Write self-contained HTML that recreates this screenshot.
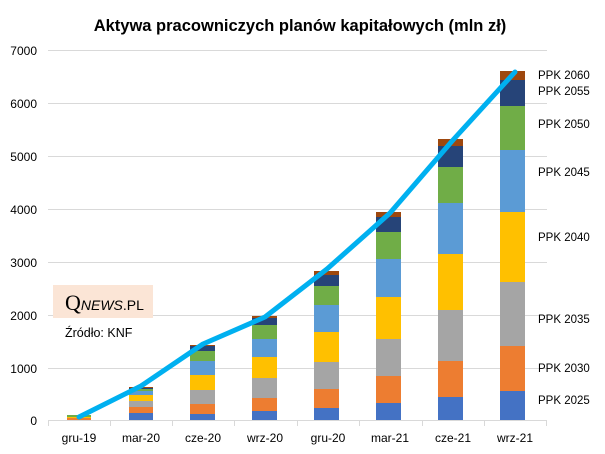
<!DOCTYPE html>
<html><head><meta charset="utf-8"><style>
body{margin:0;background:#fff;}
svg{display:block;font-family:"Liberation Sans","DejaVu Sans",sans-serif;}
</style></head><body>
<svg width="605" height="454" viewBox="0 0 605 454" xmlns="http://www.w3.org/2000/svg">
<rect width="605" height="454" fill="#fff"/>
<text x="300" y="31" text-anchor="middle" font-size="16.5" font-weight="bold" fill="#000">Aktywa pracowniczych planów kapitałowych (mln zł)</text>
<g stroke="#d9d9d9" stroke-width="1">
<line x1="48" x2="547" y1="50.5" y2="50.5"/>
<line x1="48" x2="547" y1="103.5" y2="103.5"/>
<line x1="48" x2="547" y1="156.5" y2="156.5"/>
<line x1="48" x2="547" y1="209.5" y2="209.5"/>
<line x1="48" x2="547" y1="262.5" y2="262.5"/>
<line x1="48" x2="547" y1="315.5" y2="315.5"/>
<line x1="48" x2="547" y1="368.5" y2="368.5"/>
<line x1="48" x2="547" y1="420.5" y2="420.5"/>
<line x1="48.5" x2="48.5" y1="420" y2="426"/>
<line x1="110.5" x2="110.5" y1="420" y2="426"/>
<line x1="172.5" x2="172.5" y1="420" y2="426"/>
<line x1="234.5" x2="234.5" y1="420" y2="426"/>
<line x1="297.5" x2="297.5" y1="420" y2="426"/>
<line x1="359.5" x2="359.5" y1="420" y2="426"/>
<line x1="422.5" x2="422.5" y1="420" y2="426"/>
<line x1="484.5" x2="484.5" y1="420" y2="426"/>
<line x1="546.5" x2="546.5" y1="420" y2="426"/>
</g>
<g font-size="12" fill="#000" text-anchor="end">
<text x="37" y="55">7000</text><text x="37" y="108">6000</text><text x="37" y="161">5000</text>
<text x="37" y="214">4000</text><text x="37" y="267">3000</text><text x="37" y="320">2000</text>
<text x="37" y="373">1000</text><text x="37" y="425">0</text>
</g>
<g font-size="12" fill="#000" text-anchor="middle">
<text x="79" y="442">gru-19</text><text x="141" y="442">mar-20</text><text x="203" y="442">cze-20</text>
<text x="265" y="442">wrz-20</text><text x="328" y="442">gru-20</text><text x="390" y="442">mar-21</text>
<text x="453" y="442">cze-21</text><text x="515" y="442">wrz-21</text>
</g>
<!-- bars: colors bottom->top -->
<g>
<!-- gru-19 -->
<rect x="67" y="418" width="24" height="2" fill="#ED7D31"/>
<rect x="67" y="417" width="24" height="1" fill="#FFC000"/>
<rect x="67" y="415" width="24" height="2" fill="#70AD47"/>
<!-- mar-20 -->
<rect x="129" y="413" width="24" height="7" fill="#4472C4"/>
<rect x="129" y="407" width="24" height="6" fill="#ED7D31"/>
<rect x="129" y="401" width="24" height="6" fill="#A5A5A5"/>
<rect x="129" y="395" width="24" height="6" fill="#FFC000"/>
<rect x="129" y="391" width="24" height="4" fill="#5B9BD5"/>
<rect x="129" y="389" width="24" height="2" fill="#70AD47"/>
<rect x="129" y="388" width="24" height="1" fill="#264478"/>
<rect x="129" y="387" width="24" height="1" fill="#9E480E"/>
<!-- cze-20 -->
<rect x="190" y="414" width="25" height="6" fill="#4472C4"/>
<rect x="190" y="404" width="25" height="10" fill="#ED7D31"/>
<rect x="190" y="390" width="25" height="14" fill="#A5A5A5"/>
<rect x="190" y="375" width="25" height="15" fill="#FFC000"/>
<rect x="190" y="361" width="25" height="14" fill="#5B9BD5"/>
<rect x="190" y="351" width="25" height="10" fill="#70AD47"/>
<rect x="190" y="346" width="25" height="5" fill="#264478"/>
<rect x="190" y="345" width="25" height="1" fill="#9E480E"/>
<!-- wrz-20 -->
<rect x="252" y="411" width="25" height="9" fill="#4472C4"/>
<rect x="252" y="398" width="25" height="13" fill="#ED7D31"/>
<rect x="252" y="378" width="25" height="20" fill="#A5A5A5"/>
<rect x="252" y="357" width="25" height="21" fill="#FFC000"/>
<rect x="252" y="339" width="25" height="18" fill="#5B9BD5"/>
<rect x="252" y="325" width="25" height="14" fill="#70AD47"/>
<rect x="252" y="318" width="25" height="7" fill="#264478"/>
<rect x="252" y="316" width="25" height="2" fill="#9E480E"/>
<!-- gru-20 -->
<rect x="314" y="408" width="25" height="12" fill="#4472C4"/>
<rect x="314" y="389" width="25" height="19" fill="#ED7D31"/>
<rect x="314" y="362" width="25" height="27" fill="#A5A5A5"/>
<rect x="314" y="332" width="25" height="30" fill="#FFC000"/>
<rect x="314" y="305" width="25" height="27" fill="#5B9BD5"/>
<rect x="314" y="286" width="25" height="19" fill="#70AD47"/>
<rect x="314" y="275" width="25" height="11" fill="#264478"/>
<rect x="314" y="271" width="25" height="4" fill="#9E480E"/>
<!-- mar-21 -->
<rect x="376" y="403" width="25" height="17" fill="#4472C4"/>
<rect x="376" y="376" width="25" height="27" fill="#ED7D31"/>
<rect x="376" y="339" width="25" height="37" fill="#A5A5A5"/>
<rect x="376" y="297" width="25" height="42" fill="#FFC000"/>
<rect x="376" y="259" width="25" height="38" fill="#5B9BD5"/>
<rect x="376" y="232" width="25" height="27" fill="#70AD47"/>
<rect x="376" y="217" width="25" height="15" fill="#264478"/>
<rect x="376" y="212" width="25" height="5" fill="#9E480E"/>
<!-- cze-21 -->
<rect x="438" y="397" width="25" height="23" fill="#4472C4"/>
<rect x="438" y="361" width="25" height="36" fill="#ED7D31"/>
<rect x="438" y="310" width="25" height="51" fill="#A5A5A5"/>
<rect x="438" y="254" width="25" height="56" fill="#FFC000"/>
<rect x="438" y="203" width="25" height="51" fill="#5B9BD5"/>
<rect x="438" y="167" width="25" height="36" fill="#70AD47"/>
<rect x="438" y="146" width="25" height="21" fill="#264478"/>
<rect x="438" y="139" width="25" height="7" fill="#9E480E"/>
<!-- wrz-21 -->
<rect x="500" y="391" width="25" height="29" fill="#4472C4"/>
<rect x="500" y="346" width="25" height="45" fill="#ED7D31"/>
<rect x="500" y="282" width="25" height="64" fill="#A5A5A5"/>
<rect x="500" y="212" width="25" height="70" fill="#FFC000"/>
<rect x="500" y="150" width="25" height="62" fill="#5B9BD5"/>
<rect x="500" y="106" width="25" height="44" fill="#70AD47"/>
<rect x="500" y="80" width="25" height="26" fill="#264478"/>
<rect x="500" y="71" width="25" height="9" fill="#9E480E"/>
</g>
<polyline points="79,417 141,386 203,344 265,317 327,269 390,213 453,140 515,72" fill="none" stroke="#00B0F0" stroke-width="5" stroke-linejoin="round" stroke-linecap="round"/>
<g font-size="11.5" fill="#000">
<text x="538" y="79">PPK 2060</text><text x="538" y="95">PPK 2055</text>
<text x="538" y="128">PPK 2050</text><text x="538" y="176">PPK 2045</text>
<text x="538" y="241">PPK 2040</text><text x="538" y="323">PPK 2035</text>
<text x="538" y="372">PPK 2030</text><text x="538" y="404">PPK 2025</text>
</g>
<rect x="53" y="285" width="100" height="33" fill="#FBE5D6"/>
<text x="65" y="310" font-family="Liberation Serif,serif" font-size="22" fill="#000">Q<tspan font-family="Liberation Sans,sans-serif" font-size="14" font-style="italic">NEWS</tspan><tspan font-family="Liberation Sans,sans-serif" font-size="14">.PL</tspan></text>
<text x="65" y="337" font-size="12.5" fill="#000">Źródło: KNF</text>
</svg>
</body></html>
